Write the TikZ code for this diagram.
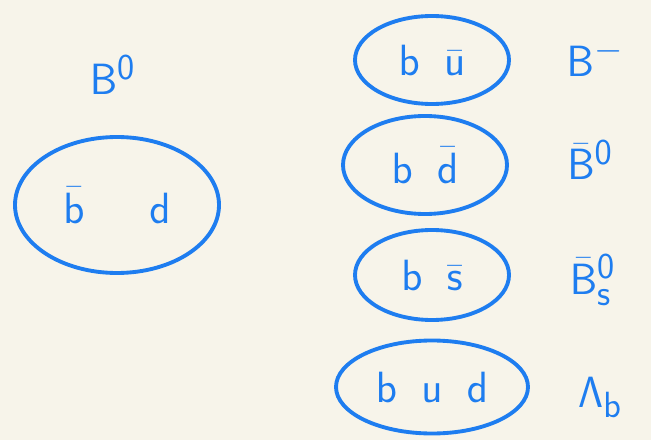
\documentclass[tikz,border=0pt]{standalone}
\usepackage{amsmath}
\usepackage{tikz}
\usetikzlibrary{shapes.geometric}
\definecolor{pen}{RGB}{30,125,240}
\definecolor{paper}{RGB}{247,244,234}

\begin{document}
\begin{tikzpicture}[
                hadron/.style={ellipse, draw=pen, line width=2.2pt, inner sep=0pt},
                name_lbl/.style={text=pen, font=\fontsize{30}{34}\selectfont\sffamily}
            ]
                \fill[paper] (0,0) rectangle (13.02,8.8);
                \useasboundingbox (0,0) rectangle (13.02,8.8);

                % neutral B meson on the left
                \node[name_lbl] (b0) at (2.25, 7.3) {$\mathsf{B}^{\mathsf{0}}$};
                \node[hadron, minimum width=4.08cm, minimum height=2.72cm, name_lbl] (qb0) at (2.34, 4.7) {$\bar{\mathsf{b}}\quad\;\mathsf{d}$};

                % b hadrons
                \node[hadron, minimum width=3.08cm, minimum height=1.76cm, name_lbl] (q1) at (8.64, 7.6) {$\mathsf{b}\;\;\bar{\mathsf{u}}$};
                \node[hadron, minimum width=3.28cm, minimum height=1.96cm, name_lbl] (q2) at (8.5, 5.5) {$\mathsf{b}\;\;\bar{\mathsf{d}}$};
                \node[hadron, minimum width=3.08cm, minimum height=1.8cm, name_lbl] (q3) at (8.64, 3.3) {$\mathsf{b}\;\;\bar{\mathsf{s}}$};
                \node[hadron, minimum width=3.84cm, minimum height=1.86cm, name_lbl] (q4) at (8.64, 1.06) {$\mathsf{b}\;\;\mathsf{u}\;\;\mathsf{d}$};

                \node[name_lbl] (h1) at (11.9, 7.65) {$\mathsf{B}^{-}$};
                \node[name_lbl] (h2) at (11.8, 5.6) {$\bar{\mathsf{B}}^{\mathsf{0}}$};
                \node[name_lbl] (h3) at (11.85, 3.2) {$\bar{\mathsf{B}}^{\mathsf{0}}_{\mathsf{s}}$};
                \node[name_lbl] (h4) at (12.0, 0.85) {$\mathsf{\Lambda}_{\mathsf{b}}$};
            \end{tikzpicture}
\end{document}
